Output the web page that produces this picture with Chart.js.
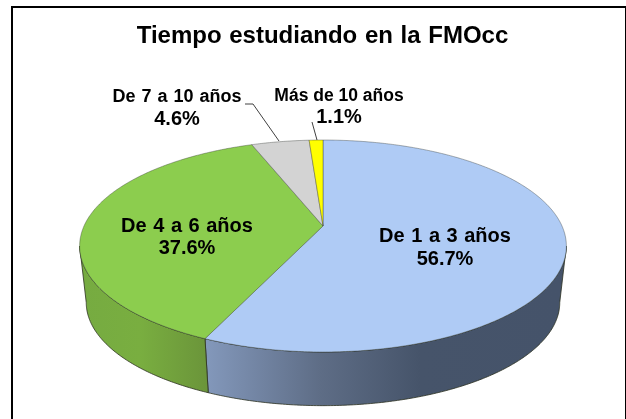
<!DOCTYPE html>
<html lang="es">
<head>
    <meta charset="UTF-8">
    <title>Tiempo estudiando en la FMOcc</title>
    <script src="https://cdn.jsdelivr.net/npm/chart.js"></script>
    <style>
        html, body { margin: 0; padding: 0; background: #fff; overflow: hidden; }
        #wrap { position: relative; width: 626px; height: 419px; overflow: hidden; }
        #frame { position: absolute; left: 11px; top: 6px; width: 612px; height: 500px; border: 2px solid #000; pointer-events: none; }
    </style>
</head>
<body>
<div id="wrap">
    <canvas id="pie" width="626" height="419"></canvas>
    <div id="frame"></div>
</div>
<script>
    const categories = ['De 1 a 3 años', 'De 4 a 6 años', 'De 7 a 10 años', 'Más de 10 años'];
    const percents = [56.7, 37.6, 4.6, 1.1];
    const topColors = ['#afcbf5', '#8ccd4e', '#d3d3d3', '#ffff00'];

    // wall shading, left to right: [x, colour]
    const wallStops = [
        [[206, '#8398bb'], [320, '#5e6d86'], [420, '#46546a'], [560, '#45536a']],
        [[82, '#76ab41'], [140, '#79ae40'], [206, '#6b953a']],
        [[250, '#a8a8a8'], [310, '#a8a8a8']],
        [[310, '#c4c400'], [323, '#c4c400']]
    ];

    // label text placement: centre x, first line y, second line y, font sizes, word gap
    const labelSpots = [
        { x: 445, y1: 236, y2: 259, f1: 20, f2: 20, ws: 1 },
        { x: 187, y1: 226, y2: 248, f1: 20, f2: 20, ws: 1 },
        { x: 177, y1: 97, y2: 119, f1: 18, f2: 20, ws: 1 },
        { x: 339, y1: 96, y2: 117, f1: 17.5, f2: 20, ws: 0 }
    ];
    const leaders = [
        null,
        null,
        [[245, 104], [253, 104], [279, 141]],
        [[312, 122], [317, 140]]
    ];

    // tilted disc projection, near edge comes out larger
    const tilt = { cx: 323, cy: 226, a: 239, b: 102.2, p: 0.1887 };
    const base = { cx: 323, cy: 283, a: 232.5, b: 99.5, p: 0.1887 };

    function project(d, angle) {
        const u = Math.cos(angle), v = Math.sin(angle);
        const w = 1 - d.p * v;
        return [d.cx + d.a * u / w, d.cy + d.b * v / w];
    }

    function arcPoints(d, from, to) {
        const n = Math.max(2, Math.ceil((to - from) / 0.01));
        const pts = [];
        for (let i = 0; i <= n; i++) pts.push(project(d, from + (to - from) * i / n));
        return pts;
    }

    function tracePts(ctx, pts, first) {
        pts.forEach((p, i) => {
            if (i === 0 && first) ctx.moveTo(p[0], p[1]); else ctx.lineTo(p[0], p[1]);
        });
    }

    const tiltedPie = {
        id: 'tiltedPie',
        beforeDraw(chart) {
            chart.ctx.wordSpacing = '1px';
        },
        beforeDatasetsDraw(chart) {
            const ctx = chart.ctx;
            const arcs = chart.getDatasetMeta(0).data;
            const edge = Math.asin(tilt.p);
            ctx.save();
            ctx.lineJoin = 'round';

            // side wall, only the part facing us
            arcs.forEach((arc, i) => {
                const lo = Math.max(arc.startAngle, edge), hi = Math.min(arc.endAngle, Math.PI - edge);
                if (hi <= lo) return;
                const x0 = wallStops[i][0][0], x1 = wallStops[i][wallStops[i].length - 1][0];
                const g = ctx.createLinearGradient(x0, 0, x1, 0);
                wallStops[i].forEach(s => g.addColorStop((s[0] - x0) / (x1 - x0), s[1]));
                ctx.beginPath();
                tracePts(ctx, arcPoints(tilt, lo, hi), true);
                tracePts(ctx, arcPoints(base, lo, hi).reverse(), false);
                ctx.closePath();
                ctx.fillStyle = g;
                ctx.fill();
                ctx.strokeStyle = '#2b3020';
                ctx.lineWidth = 0.8;
                ctx.stroke();
            });

            // top face
            arcs.forEach((arc, i) => {
                ctx.beginPath();
                ctx.moveTo(tilt.cx, tilt.cy);
                tracePts(ctx, arcPoints(tilt, arc.startAngle, arc.endAngle), false);
                ctx.closePath();
                ctx.fillStyle = arc.options.backgroundColor;
                ctx.fill();
                ctx.strokeStyle = 'rgba(50,55,50,0.55)';
                ctx.lineWidth = 0.7;
                ctx.stroke();
            });
            ctx.restore();

            // labels and leader lines
            ctx.save();
            ctx.textAlign = 'center';
            ctx.textBaseline = 'middle';
            ctx.fillStyle = '#000';
            categories.forEach((name, i) => {
                const s = labelSpots[i];
                ctx.wordSpacing = s.ws + 'px';
                ctx.font = 'bold ' + s.f1 + 'px "Liberation Sans", Arial, sans-serif';
                ctx.fillText(name, s.x, s.y1);
                ctx.font = 'bold ' + s.f2 + 'px "Liberation Sans", Arial, sans-serif';
                ctx.fillText(percents[i].toFixed(1) + '%', s.x, s.y2);
                if (leaders[i]) {
                    ctx.beginPath();
                    tracePts(ctx, leaders[i], true);
                    ctx.strokeStyle = '#404040';
                    ctx.lineWidth = 1;
                    ctx.stroke();
                }
            });
            ctx.restore();
            return false;
        }
    };

    new Chart(document.getElementById('pie'), {
        type: 'pie',
        data: {
            labels: categories,
            datasets: [{ data: percents, backgroundColor: topColors }]
        },
        options: {
            responsive: false,
            animation: false,
            layout: { padding: { left: 19 } },
            plugins: {
                legend: { display: false },
                tooltip: { enabled: false },
                title: {
                    display: true,
                    text: 'Tiempo estudiando en la FMOcc',
                    color: '#000',
                    font: { family: '"Liberation Sans", Arial, sans-serif', size: 24, weight: 'bold' },
                    padding: { top: 22, bottom: 10 }
                }
            }
        },
        plugins: [tiltedPie]
    });
</script>
</body>
</html>
